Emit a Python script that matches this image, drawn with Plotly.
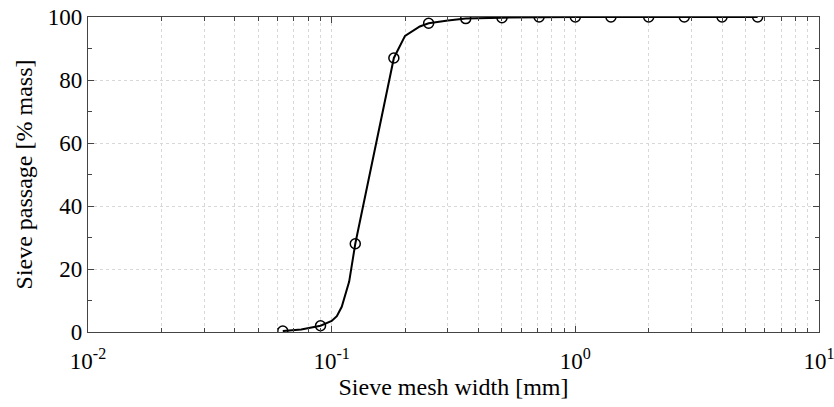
import plotly.graph_objects as go

# Measured sieve points
sieve_mm = [0.063, 0.09, 0.125, 0.18, 0.25, 0.355, 0.5, 0.71, 1.0, 1.4, 2.0, 2.8, 4.0, 5.6]
passage = [0.3, 2.0, 28.0, 87.0, 98.0, 99.5, 99.8, 100.0, 100.0, 100.0, 100.0, 100.0, 100.0, 100.0]

# Curve vertices
curve_mm = [0.063, 0.075, 0.09, 0.1, 0.105, 0.11, 0.118, 0.125, 0.18, 0.2, 0.23, 0.25, 0.3, 0.355, 0.5, 0.71, 1.0, 1.4, 2.0, 2.8, 4.0, 5.6]
curve_pass = [0.3, 0.8, 2.0, 3.5, 5.0, 8.0, 16.0, 28.0, 87.0, 94.0, 97.0, 98.0, 98.9, 99.5, 99.8, 100.0, 100.0, 100.0, 100.0, 100.0, 100.0, 100.0]

x_tickvals = [0.01, 0.1, 1, 10]
x_ticktext = ["10<sup>-2</sup>", "10<sup>-1</sup>", "10<sup>0</sup>", "10<sup>1</sup>"]
y_tickvals = [0, 20, 40, 60, 80, 100]

FONT = "Times New Roman, Liberation Serif, DejaVu Serif, serif"
AXC = "#444444"
GRIDC = "#d8d8d8"
FS = 23
FT = 24

fig = go.Figure()
fig.add_trace(go.Scatter(x=curve_mm, y=curve_pass, mode="lines",
                         line=dict(color="black", width=2), showlegend=False,
                         hoverinfo="skip"))
fig.add_trace(go.Scatter(x=sieve_mm, y=passage, mode="markers",
                         marker=dict(symbol="circle-open", size=10, color="black",
                                     line=dict(width=1.5, color="black")),
                         showlegend=False))

fig.update_layout(
    width=834, height=407,
    margin=dict(l=88, r=15, t=17, b=75),
    paper_bgcolor="white", plot_bgcolor="white",
    font=dict(family=FONT, size=FS, color="black"),
    xaxis=dict(
        type="log", range=[-2, 1], automargin=False, ticklabeloverflow="allow",
        tickvals=x_tickvals, ticktext=x_ticktext, ticklabelstandoff=8,
        ticks="inside", ticklen=6, tickcolor=AXC,
        showline=True, linecolor=AXC, linewidth=1.2, mirror="allticks",
        showgrid=True, gridcolor=GRIDC, griddash="dot", gridwidth=1,
        minor=dict(dtick="D1", ticks="inside", ticklen=4, tickcolor=AXC,
                   showgrid=True, gridcolor=GRIDC, griddash="dot", gridwidth=1),
        title=dict(text="Sieve mesh width [mm]", font=dict(family=FONT, size=FT), standoff=0),
        tickfont=dict(family=FONT, size=FS),
        zeroline=False,
    ),
    yaxis=dict(
        range=[0, 100], automargin=False, ticklabeloverflow="allow",
        tickvals=y_tickvals,
        ticks="inside", ticklen=6, tickcolor=AXC,
        showline=True, linecolor=AXC, linewidth=1.2, mirror="allticks",
        showgrid=True, gridcolor=GRIDC, griddash="dot", gridwidth=1,
        minor=dict(dtick=10, ticks="inside", ticklen=4, tickcolor=AXC, showgrid=False),
        title=dict(text="Sieve passage [% mass]", font=dict(family=FONT, size=FT), standoff=8),
        tickfont=dict(family=FONT, size=FS),
        zeroline=False,
    ),
)

fig.write_html("out.html")
